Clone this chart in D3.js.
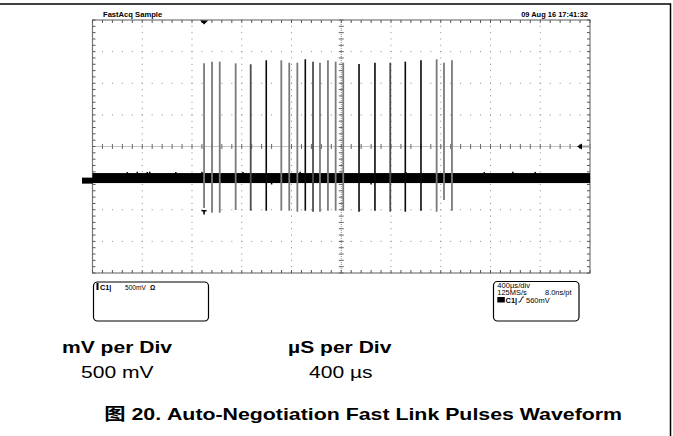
<!DOCTYPE html>
<html>
<head>
<meta charset="utf-8">
<script src="https://cdn.jsdelivr.net/npm/d3@7"></script>
<style>
body { margin: 0; background: #fff; }
svg { display: block; font-family: "Liberation Sans", Arial, "Noto Sans CJK SC", sans-serif; }
</style>
</head>
<body>
<svg id="mainSvg" width="673" height="436"></svg>
<script>
// pulse times in µs from screen centre, levels in mV from screen centre
var pulseTimes = [-1103, -1039, -977, -849, -728, -603, -482, -418, -353, -289, -227, -171, -107, -45, 16, 143, 271, 394, 515, 641, 767, 826, 890];
var pulseTops = [1315, 1341, 1341, 1315, 1300, 1363, 1363, 1325, 1325, 1379, 1341, 1325, 1363, 1341, 1325, 1304, 1325, 1325, 1341, 1363, 1379, 1325, 1363];
var pulseBottoms = [-972, -1047, -1047, -1004, -1015, -1015, -1015, -1015, -1031, -1015, -1031, -1031, -1015, -1015, -1015, -1031, -1015, -1031, -1031, -1015, -1031, -846, -1015];
var pulseHits = [0.5, 0.5, 0.5, 0.5, 0.7, 1, 0.5, 0.5, 0.5, 1, 0.7, 0.5, 0.5, 0.5, 0.5, 1, 1, 0.7, 1, 1, 0.5, 0.5, 0.5];
var groundLevel = -500;
var noiseSpan = [-420, -578];
var noiseSpikeTimes = [-1720, -1640, -1560, -1540, -1330, -1120, -790, -560, -330, 240, 520, 1150, 1380, 1560];
var noiseSpikeLevels = [-404, -400, -402, -398, -404, -400, -402, -600, -400, -600, -402, -404, -400, -402];
var timeDomain = [-2000, 2000];
var voltDomain = [-2000, 2000];
var headerLabels = ["FastAcq Sample", "09 Aug 16 17:41:32"];
var chanReadout = ["C1", "500mV", "\u03a9"];
var timeReadout = ["400\u00b5s/div", "125MS/s", "8.0ns/pt", "C1", "560mV"];
var tableHead = ["mV per Div", "\u00b5S per Div"];
var tableValues = ["500 mV", "400 \u00b5s"];
var caption = "\u56fe 20. Auto-Negotiation Fast Link Pulses Waveform";

var mainSvg = d3.select("#mainSvg");
var x = d3.scaleLinear().domain(timeDomain).range([92.5, 590]);
var y = d3.scaleLinear().domain(voltDomain).range([273, 20]);
var divT = (timeDomain[1] - timeDomain[0]) / 10, divV = (voltDomain[1] - voltDomain[0]) / 8;

// the whole page picture is stretched sideways, so text is too
function wideText(tx, ty, str, size, sx, bold, anchor) {
	var t = mainSvg.append("g").attr("transform", "translate(" + tx + "," + ty + ") scale(" + sx + ",1)").append("text").attr("font-size", size + "px").text(str);
	if(bold) t.attr("font-weight", "bold");
	if(anchor) t.attr("text-anchor", anchor);
	return t;
}

// outer frame
mainSvg.append("line").attr("x1", 0).attr("x2", 671).attr("y1", 4).attr("y2", 4).attr("style", "stroke:#000;stroke-width:1.5");
mainSvg.append("line").attr("x1", 670.5).attr("x2", 670.5).attr("y1", 3.5).attr("y2", 436).attr("style", "stroke:#000;stroke-width:1.5");

// graticule
var g = mainSvg.append("g");
var gcol = "#8a8a8a";
var minorT = d3.range(timeDomain[0], timeDomain[1] + 1, divT / 5);
var minorV = d3.range(voltDomain[0], voltDomain[1] + 1, divV / 5);
var majorT = d3.range(timeDomain[0] + divT, timeDomain[1], divT);
var majorV = d3.range(voltDomain[0] + divV, voltDomain[1], divV);
majorV.forEach(function(v) {
	if(v == 0) return;
	g.selectAll(null).data(minorT).enter().append("rect").attr("x", function(d) { return x(d) - 0.5; }).attr("y", y(v) - 0.5).attr("width", 1).attr("height", 1).attr("fill", gcol);
});
majorT.forEach(function(t) {
	if(t == 0) return;
	g.selectAll(null).data(minorV).enter().append("rect").attr("x", x(t) - 0.5).attr("y", function(d) { return y(d) - 0.5; }).attr("width", 1).attr("height", 1).attr("fill", gcol);
});
// centre axes
g.append("line").attr("x1", x.range()[0]).attr("x2", x.range()[1]).attr("y1", y(0)).attr("y2", y(0)).attr("style", "stroke:" + gcol + ";stroke-width:1;stroke-dasharray:1,1");
g.append("line").attr("x1", x(0)).attr("x2", x(0)).attr("y1", y.range()[0]).attr("y2", y.range()[1]).attr("style", "stroke:" + gcol + ";stroke-width:1;stroke-dasharray:1,1");
g.selectAll(null).data(minorT).enter().append("line").attr("x1", function(d) { return x(d); }).attr("x2", function(d) { return x(d); }).attr("y1", y(0) - 2.5).attr("y2", y(0) + 2.5).attr("style", "stroke:#666;stroke-width:1");
g.selectAll(null).data(minorV).enter().append("line").attr("y1", function(d) { return y(d); }).attr("y2", function(d) { return y(d); }).attr("x1", x(0) - 2.5).attr("x2", x(0) + 2.5).attr("style", "stroke:#666;stroke-width:1");
// border + edge ticks
g.append("rect").attr("x", x.range()[0]).attr("y", y.range()[1]).attr("width", x.range()[1] - x.range()[0]).attr("height", y.range()[0] - y.range()[1]).attr("fill", "none").attr("style", "stroke:#777;stroke-width:1.2");
g.selectAll(null).data(minorT).enter().append("line").attr("x1", function(d) { return x(d); }).attr("x2", function(d) { return x(d); }).attr("y1", y.range()[1]).attr("y2", y.range()[1] + 3).attr("style", "stroke:#555;stroke-width:1");
g.selectAll(null).data(minorT).enter().append("line").attr("x1", function(d) { return x(d); }).attr("x2", function(d) { return x(d); }).attr("y1", y.range()[0]).attr("y2", y.range()[0] - 3).attr("style", "stroke:#555;stroke-width:1");
g.selectAll(null).data(minorV).enter().append("line").attr("y1", function(d) { return y(d); }).attr("y2", function(d) { return y(d); }).attr("x1", x.range()[0]).attr("x2", x.range()[0] + 3).attr("style", "stroke:#555;stroke-width:1");
g.selectAll(null).data(minorV).enter().append("line").attr("y1", function(d) { return y(d); }).attr("y2", function(d) { return y(d); }).attr("x1", x.range()[1]).attr("x2", x.range()[1] - 3).attr("style", "stroke:#555;stroke-width:1");

// noise band
mainSvg.append("rect").attr("x", x.range()[0]).attr("y", y(noiseSpan[0])).attr("width", x.range()[1] - x.range()[0]).attr("height", y(noiseSpan[1]) - y(noiseSpan[0])).attr("fill", "#000");
mainSvg.selectAll(null).data(noiseSpikeTimes).enter().append("line").attr("x1", function(d) { return x(d); }).attr("x2", function(d) { return x(d); }).attr("y1", y(groundLevel)).attr("y2", function(d, i) { return y(noiseSpikeLevels[i]); }).attr("style", "stroke:#000;stroke-width:1.5");

// pulses
mainSvg.selectAll(null).data(pulseTimes).enter().append("line").attr("x1", function(d) { return x(d); }).attr("x2", function(d) { return x(d); }).attr("y1", function(d, i) { return y(pulseTops[i]); }).attr("y2", function(d, i) { return y(pulseBottoms[i]); }).attr("style", function(d, i) {
	var c = d3.interpolateRgb("#7a7a7a", "#0a0a0a")((pulseHits[i] - 0.5) * 2);
	return "stroke:" + c + ";stroke-width:" + (pulseHits[i] >= 1 ? 1.6 : 1.8);
});

// trigger position marker and trigger level marker
var tx = x(pulseTimes[0]);
mainSvg.append("path").attr("d", "M" + (tx - 4) + "," + (y.range()[1] + 0.5) + "h8l-4,4z").attr("fill", "#000");
mainSvg.append("path").attr("d", "M" + (tx - 2.5) + "," + (y(pulseBottoms[0]) + 2) + "h5v1.5h-1.7v3h-1.6v-3h-1.7z").attr("fill", "#000");
var ly = y(0);
mainSvg.append("path").attr("d", "M" + 577 + "," + ly + "l5,-3v6z").attr("fill", "#000");
mainSvg.append("rect").attr("x", 582).attr("y", ly - 1).attr("width", 8).attr("height", 2).attr("fill", "#999");
// channel ground marker
mainSvg.append("rect").attr("x", 82).attr("y", y(groundLevel) - 0.5).attr("width", 11).attr("height", 6).attr("fill", "#000");

// header
wideText(103, 17, headerLabels[0], 6.8, 1.12, true);
wideText(588, 17, headerLabels[1], 6.8, 1.1, true, "end");

// readout boxes
mainSvg.append("rect").attr("x", 93.5).attr("y", 282).attr("width", 115).attr("height", 39).attr("rx", 4).attr("fill", "none").attr("style", "stroke:#000;stroke-width:1.2");
mainSvg.append("rect").attr("x", 96.5).attr("y", 283).attr("width", 2).attr("height", 7).attr("fill", "#000");
wideText(100, 289.5, chanReadout[0] + "|", 6.6, 1.1, true);
wideText(125, 289.5, chanReadout[1], 6.6, 1.0, false);
wideText(150, 289.5, chanReadout[2], 6.6, 1.0, true);

mainSvg.append("rect").attr("x", 493.5).attr("y", 281.5).attr("width", 85.5).attr("height", 39.5).attr("rx", 4).attr("fill", "none").attr("style", "stroke:#000;stroke-width:1.2");
wideText(497.3, 288, timeReadout[0], 6.8, 1.12, false);
wideText(497.3, 295.3, timeReadout[1], 6.8, 1.1, false);
wideText(545, 295.3, timeReadout[2], 6.8, 1.1, false);
mainSvg.append("rect").attr("x", 497.3).attr("y", 297).attr("width", 7.5).attr("height", 5.5).attr("fill", "#000");
wideText(505.5, 302.5, timeReadout[3] + "|", 6.8, 1.1, true);
// trigger slope symbol
mainSvg.append("path").attr("d", "M518.5,302h1.5l2.5,-5h1.5").attr("fill", "none").attr("style", "stroke:#000;stroke-width:0.9");
wideText(526, 302.5, timeReadout[4], 6.8, 1.1, false);

// table below
wideText(62, 353, tableHead[0], 17, 1.24, true);
wideText(288, 353, tableHead[1], 17, 1.24, true);
wideText(81, 378, tableValues[0], 17, 1.24, false);
wideText(309, 378, tableValues[1], 17, 1.24, false);
wideText(622, 420, caption, 17, 1.255, true, "end");
</script>
</body>
</html>
